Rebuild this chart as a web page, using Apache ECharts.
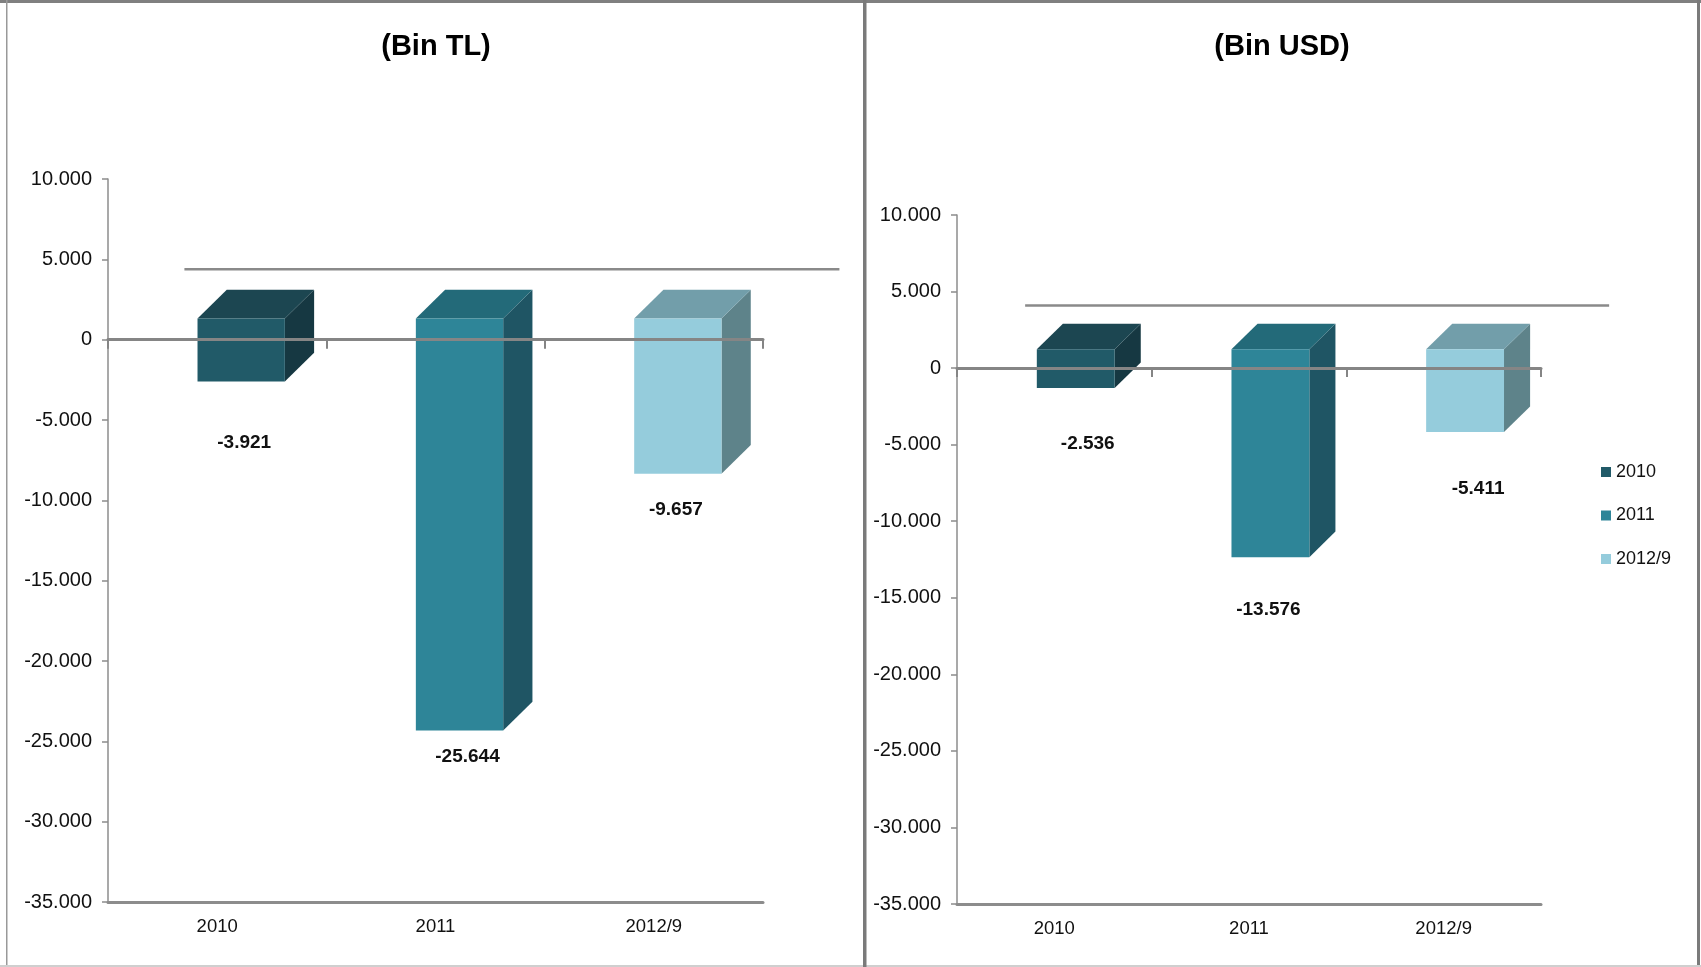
<!DOCTYPE html>
<html><head><meta charset="utf-8">
<script src="https://cdn.jsdelivr.net/npm/echarts/dist/echarts.min.js"></script>
<style>html,body{margin:0;padding:0;background:#fff}#c{width:1701px;height:967px}</style>
</head><body><div id="c"></div>
<script>
// ---- data ----
const categories = ['2010', '2011', '2012/9'];
const valuesTL = [-3921, -25644, -9657];
const valuesUSD = [-2536, -13576, -5411];
const titles = ['(Bin TL)', '(Bin USD)'];
const yMin = -35000, yMax = 10000, yStep = 5000;

// ---- styling ----
function hasFont(name) {
  const c = document.createElement('canvas').getContext('2d');
  const t = 'mmmmmmmmmmlli10.000WW';
  let diff = false;
  ['monospace', 'serif'].forEach(fb => {
    c.font = '40px ' + fb; const a = c.measureText(t).width;
    c.font = '40px "' + name + '", ' + fb; const b = c.measureText(t).width;
    if (Math.abs(a - b) > 0.5) diff = true;
  });
  return diff;
}
const FONT = '"Liberation Sans", Arial, sans-serif';
const NARROW = hasFont('Liberation Sans Narrow');
const TFONT = NARROW ? '"Liberation Sans Narrow", "Liberation Sans", Arial, sans-serif' : FONT;
const SZ = NARROW ? {tick: 23, cat: 22.5, legend: 21.5, label: 23} : {tick: 20, cat: 18.5, legend: 18, label: 19};

const palette = [
  {front: '#215A68', top: '#1C4651', side: '#163842'},
  {front: '#2E8598', top: '#236A79', side: '#1F5564'},
  {front: '#95CCDC', top: '#729EAA', side: '#5E838A'}
];
const geo = {barW: 0.40, shiftX: 0.11, shiftYR: 0.88, depthX: 0.134, depthYR: 0.98, floorX: 0.35, floorYR: 0.92};
const labelNudge = [
  [[3, 40], [8, 5], [-2, 15]],
  [[12, 37], [-2, 34], [13, 38]]
];
const grids = [
  {left: 108, top: 179, width: 655, height: 723},
  {left: 957, top: 215, width: 584, height: 689}
];
const titleX = [436, 1282];

const fmt = v => (v < 0 ? '-' : '') + Math.abs(v).toString().replace(/\B(?=(\d{3})+(?!\d))/g, '.');

function barSeries(gi, vals) {
  return categories.map((cat, i) => ({
    type: 'custom', name: cat, xAxisIndex: gi * 2, yAxisIndex: gi, z: 2,
    itemStyle: {color: palette[i].front},
    data: [[i, vals[i]]],
    renderItem: (params, api) => {
      const ci = api.value(0), v = api.value(1);
      const p0 = api.coord([ci, 0]);
      const p1 = api.coord([ci, v]);
      const band = api.size([1, 0])[0];
      const w = band * geo.barW;
      const sx = band * geo.shiftX, sy = -sx * geo.shiftYR;
      const dx = band * geo.depthX, dy = -dx * geo.depthYR;
      const fl = p0[0] + sx - w / 2, fr = fl + w;
      const ft = p0[1] + sy, fb = p1[1] + sy;
      const col = palette[ci];
      const nud = labelNudge[gi][ci];
      return {type: 'group', children: [
        {type: 'polygon', shape: {points: [[fr, ft], [fr + dx, ft + dy], [fr + dx, fb + dy], [fr, fb]]}, style: {fill: col.side}},
        {type: 'polygon', shape: {points: [[fl, ft], [fr, ft], [fr + dx, ft + dy], [fl + dx, ft + dy]]}, style: {fill: col.top}},
        {type: 'rect', shape: {x: fl, y: ft, width: w, height: fb - ft}, style: {fill: col.front}},
        {type: 'text', x: p0[0] + sx + nud[0], y: p1[1] + nud[1],
          style: {text: fmt(v), font: 'bold ' + SZ.label + 'px ' + TFONT, fill: '#111', align: 'center', verticalAlign: 'middle'}}
      ]};
    }
  }));
}

function floorSeries(gi) {
  return {
    type: 'custom', name: 'floor' + gi, xAxisIndex: gi * 2, yAxisIndex: gi, z: 1, silent: true,
    data: [[0, 0]],
    renderItem: (params, api) => {
      const band = api.size([1, 0])[0];
      const a = api.coord([0, 0]), b = api.coord([categories.length - 1, 0]);
      const dx = band * geo.floorX, dy = -dx * geo.floorYR;
      return {type: 'line', shape: {x1: a[0] - band / 2 + dx, y1: a[1] + dy, x2: b[0] + band / 2 + dx, y2: b[1] + dy},
        style: {stroke: '#8a8a8a', lineWidth: 2.5}};
    }
  };
}

const xAxes = [], yAxes = [];
[0, 1].forEach(gi => {
  xAxes.push({
    type: 'category', gridIndex: gi, data: categories, position: 'bottom',
    axisLine: {show: true, onZero: false, lineStyle: {color: '#8c8c8c', width: 3}},
    axisTick: {show: false},
    axisLabel: {show: true, margin: 15, fontSize: SZ.cat, fontFamily: TFONT, color: '#111'},
    splitLine: {show: false}
  });
  xAxes.push({
    type: 'category', gridIndex: gi, data: categories, position: 'bottom', z: 5,
    axisLine: {show: true, onZero: true, lineStyle: {color: '#858585', width: 3}},
    axisTick: {show: true, length: 9, lineStyle: {color: '#858585', width: 2}},
    axisLabel: {show: false},
    splitLine: {show: false}
  });
  yAxes.push({
    type: 'value', gridIndex: gi, min: yMin, max: yMax, interval: yStep,
    axisLine: {show: true, lineStyle: {color: '#8c8c8c', width: 1.5}},
    axisTick: {show: true, length: 6, lineStyle: {color: '#8c8c8c', width: 1.5}},
    axisLabel: {margin: 16, fontSize: SZ.tick, fontFamily: TFONT, color: '#111', formatter: fmt},
    splitLine: {show: false}
  });
});

const chart = echarts.init(document.getElementById('c'), null, {renderer: 'canvas'});
chart.setOption({
  backgroundColor: '#fff',
  animation: false,
  title: titles.map((t, i) => ({
    text: t, left: titleX[i], top: 47, textAlign: 'center', textVerticalAlign: 'middle', padding: 0,
    textStyle: {fontSize: 29, fontWeight: 'bold', fontFamily: FONT, color: '#000'}
  })),
  legend: {
    data: categories, orient: 'vertical', left: 1601, top: 472 - SZ.legend / 2, padding: 0,
    icon: 'rect', itemWidth: 10, itemHeight: 10, itemGap: 43.5 - SZ.legend,
    textStyle: {fontSize: SZ.legend, fontFamily: TFONT, color: '#111'}
  },
  grid: grids.map(g => Object.assign({outerBoundsMode: 'none', containLabel: false}, g)),
  xAxis: xAxes,
  yAxis: yAxes,
  series: [floorSeries(0), ...barSeries(0, valuesTL), floorSeries(1), ...barSeries(1, valuesUSD)],
  graphic: [
    {type: 'rect', silent: true, shape: {x: 0, y: 0, width: 1701, height: 3}, style: {fill: '#808080'}},
    {type: 'rect', silent: true, shape: {x: 6, y: 0, width: 1.5, height: 967}, style: {fill: '#999'}},
    {type: 'rect', silent: true, shape: {x: 1697, y: 0, width: 3, height: 967}, style: {fill: '#7a7a7a'}},
    {type: 'rect', silent: true, shape: {x: 0, y: 965, width: 1701, height: 2}, style: {fill: '#cfcfcf'}},
    {type: 'rect', silent: true, shape: {x: 863, y: 0, width: 3.5, height: 967}, style: {fill: '#7a7a7a'}}
  ]
});
</script></body></html>
